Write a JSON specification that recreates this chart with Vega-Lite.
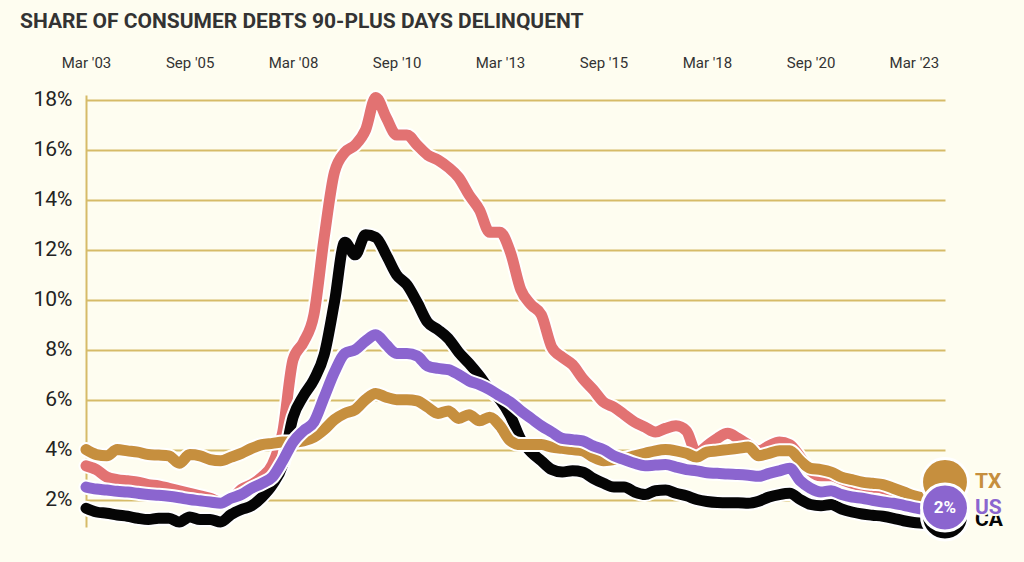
{
  "$schema": "https://vega.github.io/schema/vega-lite/v6.json",
  "width": 859,
  "height": 432,
  "autosize": {"type": "none"},
  "padding": {"left": 86, "top": 95, "right": 79, "bottom": 35},
  "background": "#FEFDF0",
  "title": {
    "text": "SHARE OF CONSUMER DEBTS 90-PLUS DAYS DELINQUENT",
    "anchor": "start",
    "frame": "group",
    "dx": -66,
    "offset": 23,
    "font": "Roboto",
    "fontSize": 21,
    "fontWeight": "bold",
    "color": "#333333"
  },
  "config": {"view": {"stroke": null}},
  "datasets": {
    "main": [
      {"d": "2003-03-01", "FL": 3.35, "TX": 4.0, "US": 2.5, "CA": 1.65},
      {"d": "2003-06-01", "FL": 3.2, "TX": 3.8, "US": 2.42, "CA": 1.5},
      {"d": "2003-09-01", "FL": 2.9, "TX": 3.75, "US": 2.38, "CA": 1.45},
      {"d": "2003-12-01", "FL": 2.8, "TX": 4.0, "US": 2.33, "CA": 1.38},
      {"d": "2004-03-01", "FL": 2.75, "TX": 3.95, "US": 2.3, "CA": 1.33},
      {"d": "2004-06-01", "FL": 2.7, "TX": 3.9, "US": 2.25, "CA": 1.25},
      {"d": "2004-09-01", "FL": 2.6, "TX": 3.8, "US": 2.2, "CA": 1.2},
      {"d": "2004-12-01", "FL": 2.55, "TX": 3.78, "US": 2.17, "CA": 1.25},
      {"d": "2005-03-01", "FL": 2.45, "TX": 3.75, "US": 2.13, "CA": 1.25},
      {"d": "2005-06-01", "FL": 2.35, "TX": 3.45, "US": 2.07, "CA": 1.1},
      {"d": "2005-09-01", "FL": 2.25, "TX": 3.8, "US": 2.0, "CA": 1.3},
      {"d": "2005-12-01", "FL": 2.15, "TX": 3.75, "US": 1.95, "CA": 1.2},
      {"d": "2006-03-01", "FL": 2.05, "TX": 3.6, "US": 1.9, "CA": 1.2},
      {"d": "2006-06-01", "FL": 1.9, "TX": 3.55, "US": 1.85, "CA": 1.1},
      {"d": "2006-09-01", "FL": 2.0, "TX": 3.7, "US": 2.05, "CA": 1.4},
      {"d": "2006-12-01", "FL": 2.4, "TX": 3.85, "US": 2.2, "CA": 1.6},
      {"d": "2007-03-01", "FL": 2.6, "TX": 4.05, "US": 2.45, "CA": 1.75},
      {"d": "2007-06-01", "FL": 2.9, "TX": 4.2, "US": 2.65, "CA": 2.1},
      {"d": "2007-09-01", "FL": 3.4, "TX": 4.25, "US": 2.9, "CA": 2.6},
      {"d": "2007-12-01", "FL": 4.7, "TX": 4.3, "US": 3.55, "CA": 3.4},
      {"d": "2008-03-01", "FL": 7.6, "TX": 4.3, "US": 4.3, "CA": 5.3},
      {"d": "2008-06-01", "FL": 8.3, "TX": 4.35, "US": 4.75, "CA": 6.15},
      {"d": "2008-09-01", "FL": 9.4, "TX": 4.5, "US": 5.1, "CA": 6.8},
      {"d": "2008-12-01", "FL": 12.5, "TX": 4.8, "US": 6.1, "CA": 7.8},
      {"d": "2009-03-01", "FL": 15.1, "TX": 5.2, "US": 7.1, "CA": 9.9},
      {"d": "2009-06-01", "FL": 15.9, "TX": 5.45, "US": 7.85, "CA": 12.3},
      {"d": "2009-09-01", "FL": 16.2, "TX": 5.6, "US": 8.0, "CA": 11.8},
      {"d": "2009-12-01", "FL": 16.8, "TX": 6.0, "US": 8.35, "CA": 12.6},
      {"d": "2010-03-01", "FL": 18.1, "TX": 6.25, "US": 8.6, "CA": 12.5},
      {"d": "2010-06-01", "FL": 17.3, "TX": 6.1, "US": 8.2, "CA": 11.8},
      {"d": "2010-09-01", "FL": 16.6, "TX": 6.0, "US": 7.85, "CA": 11.0},
      {"d": "2010-12-01", "FL": 16.6, "TX": 6.0, "US": 7.85, "CA": 10.6},
      {"d": "2011-03-01", "FL": 16.2, "TX": 5.95, "US": 7.75, "CA": 9.9},
      {"d": "2011-06-01", "FL": 15.8, "TX": 5.7, "US": 7.35, "CA": 9.1},
      {"d": "2011-09-01", "FL": 15.6, "TX": 5.45, "US": 7.25, "CA": 8.8},
      {"d": "2011-12-01", "FL": 15.3, "TX": 5.55, "US": 7.2, "CA": 8.45},
      {"d": "2012-03-01", "FL": 14.9, "TX": 5.25, "US": 7.0, "CA": 7.9},
      {"d": "2012-06-01", "FL": 14.2, "TX": 5.4, "US": 6.75, "CA": 7.45},
      {"d": "2012-09-01", "FL": 13.6, "TX": 5.15, "US": 6.6, "CA": 6.95},
      {"d": "2012-12-01", "FL": 12.7, "TX": 5.3, "US": 6.4, "CA": 6.4},
      {"d": "2013-03-01", "FL": 12.7, "TX": 4.95, "US": 6.15, "CA": 6.0},
      {"d": "2013-06-01", "FL": 11.9, "TX": 4.35, "US": 5.9, "CA": 5.35},
      {"d": "2013-09-01", "FL": 10.4, "TX": 4.2, "US": 5.55, "CA": 4.4},
      {"d": "2013-12-01", "FL": 9.8, "TX": 4.2, "US": 5.25, "CA": 3.9},
      {"d": "2014-03-01", "FL": 9.4, "TX": 4.2, "US": 4.95, "CA": 3.55},
      {"d": "2014-06-01", "FL": 8.1, "TX": 4.1, "US": 4.7, "CA": 3.2},
      {"d": "2014-09-01", "FL": 7.7, "TX": 4.05, "US": 4.45, "CA": 3.1},
      {"d": "2014-12-01", "FL": 7.4, "TX": 4.0, "US": 4.4, "CA": 3.15},
      {"d": "2015-03-01", "FL": 6.85, "TX": 3.95, "US": 4.35, "CA": 3.1},
      {"d": "2015-06-01", "FL": 6.4, "TX": 3.7, "US": 4.15, "CA": 2.85},
      {"d": "2015-09-01", "FL": 5.9, "TX": 3.55, "US": 4.0, "CA": 2.65},
      {"d": "2015-12-01", "FL": 5.7, "TX": 3.6, "US": 3.75, "CA": 2.5},
      {"d": "2016-03-01", "FL": 5.4, "TX": 3.65, "US": 3.6, "CA": 2.5},
      {"d": "2016-06-01", "FL": 5.1, "TX": 3.75, "US": 3.45, "CA": 2.3},
      {"d": "2016-09-01", "FL": 4.9, "TX": 3.85, "US": 3.35, "CA": 2.2},
      {"d": "2016-12-01", "FL": 4.7, "TX": 3.95, "US": 3.38, "CA": 2.35},
      {"d": "2017-03-01", "FL": 4.85, "TX": 4.0, "US": 3.4, "CA": 2.38},
      {"d": "2017-06-01", "FL": 4.95, "TX": 3.95, "US": 3.3, "CA": 2.25},
      {"d": "2017-09-01", "FL": 4.75, "TX": 3.85, "US": 3.2, "CA": 2.15},
      {"d": "2017-12-01", "FL": 3.85, "TX": 3.7, "US": 3.15, "CA": 2.0},
      {"d": "2018-03-01", "FL": 4.15, "TX": 3.9, "US": 3.07, "CA": 1.92},
      {"d": "2018-06-01", "FL": 4.45, "TX": 3.95, "US": 3.05, "CA": 1.88},
      {"d": "2018-09-01", "FL": 4.65, "TX": 4.0, "US": 3.02, "CA": 1.87},
      {"d": "2018-12-01", "FL": 4.45, "TX": 4.05, "US": 3.0, "CA": 1.87},
      {"d": "2019-03-01", "FL": 4.2, "TX": 4.1, "US": 2.97, "CA": 1.85},
      {"d": "2019-06-01", "FL": 3.95, "TX": 3.75, "US": 2.93, "CA": 1.93},
      {"d": "2019-09-01", "FL": 4.15, "TX": 3.85, "US": 3.05, "CA": 2.1},
      {"d": "2019-12-01", "FL": 4.3, "TX": 3.95, "US": 3.15, "CA": 2.2},
      {"d": "2020-03-01", "FL": 4.2, "TX": 3.95, "US": 3.25, "CA": 2.25},
      {"d": "2020-06-01", "FL": 3.7, "TX": 3.55, "US": 2.75, "CA": 2.0},
      {"d": "2020-09-01", "FL": 3.15, "TX": 3.25, "US": 2.45, "CA": 1.8},
      {"d": "2020-12-01", "FL": 2.95, "TX": 3.2, "US": 2.3, "CA": 1.75},
      {"d": "2021-03-01", "FL": 2.95, "TX": 3.1, "US": 2.35, "CA": 1.8},
      {"d": "2021-06-01", "FL": 2.8, "TX": 2.9, "US": 2.2, "CA": 1.62},
      {"d": "2021-09-01", "FL": 2.65, "TX": 2.8, "US": 2.1, "CA": 1.5},
      {"d": "2021-12-01", "FL": 2.55, "TX": 2.7, "US": 2.05, "CA": 1.42},
      {"d": "2022-03-01", "FL": 2.5, "TX": 2.65, "US": 1.97, "CA": 1.37},
      {"d": "2022-06-01", "FL": 2.45, "TX": 2.6, "US": 1.9, "CA": 1.33},
      {"d": "2022-09-01", "FL": 2.3, "TX": 2.45, "US": 1.85, "CA": 1.25},
      {"d": "2022-12-01", "FL": 2.15, "TX": 2.3, "US": 1.77, "CA": 1.15},
      {"d": "2023-03-01", "FL": 2.0, "TX": 2.15, "US": 1.68, "CA": 1.08},
      {"d": "2023-06-01", "FL": 1.9, "TX": 2.05, "US": 1.6, "CA": 1.05},
      {"d": "2023-09-01", "FL": 1.85, "TX": 2.0, "US": 1.58, "CA": 1.0},
      {"d": "2023-12-01", "FL": 1.85, "TX": 2.0, "US": 1.6, "CA": 1.0}
    ],
    "ends": [
      {"s": "CA", "d": "2023-12-01", "pos": 1.32, "badge": ""},
      {"s": "TX", "d": "2023-12-01", "pos": 2.7, "badge": ""},
      {"s": "US", "d": "2023-12-01", "pos": 1.68, "badge": "2%"}
    ]
  },
  "encoding": {
    "x": {
      "field": "d",
      "type": "temporal",
      "scale": {"domain": [{"year": 2003, "month": 3, "date": 1}, {"year": 2023, "month": 12, "date": 1}]},
      "axis": {
        "orient": "top",
        "title": null,
        "values": [
          {"year": 2003, "month": 3, "date": 1},
          {"year": 2005, "month": 9, "date": 1},
          {"year": 2008, "month": 3, "date": 1},
          {"year": 2010, "month": 9, "date": 1},
          {"year": 2013, "month": 3, "date": 1},
          {"year": 2015, "month": 9, "date": 1},
          {"year": 2018, "month": 3, "date": 1},
          {"year": 2020, "month": 9, "date": 1},
          {"year": 2023, "month": 3, "date": 1}
        ],
        "format": "%b '%y",
        "labelFont": "Roboto",
        "labelFontSize": 15,
        "labelColor": "#333333",
        "ticks": false,
        "tickSize": 0,
        "domain": false,
        "grid": false,
        "labelPadding": 25,
        "labelFlush": false,
        "labelOverlap": false
      }
    },
    "y": {
      "type": "quantitative",
      "scale": {"domain": [0.9, 18.2], "nice": false, "zero": false},
      "axis": {
        "title": null,
        "values": [2, 4, 6, 8, 10, 12, 14, 16, 18],
        "labelExpr": "datum.value + '%'",
        "labelFont": "Roboto",
        "labelFontSize": 21,
        "labelColor": "#222222",
        "ticks": false,
        "tickSize": 0,
        "labelPadding": 14,
        "domain": true,
        "domainColor": "#D6BB68",
        "domainWidth": 2,
        "grid": true,
        "gridColor": "#D6BB68",
        "gridWidth": 2
      }
    }
  },
  "layer": [
    {
      "data": {"name": "main"},
      "transform": [{"fold": ["FL", "TX", "US", "CA"], "as": ["s", "v"]}],
      "encoding": {"y": {"field": "v", "type": "quantitative"}},
      "layer": [
        {"transform": [{"filter": "datum.s === 'FL'"}], "mark": {"type": "line", "color": "#FFFFFF", "strokeWidth": 15, "interpolate": "monotone", "strokeCap": "round", "strokeJoin": "round"}, "encoding": {}},
        {"transform": [{"filter": "datum.s === 'FL'"}], "mark": {"type": "line", "color": "#E27272", "strokeWidth": 11, "interpolate": "monotone", "strokeCap": "round", "strokeJoin": "round"}, "encoding": {}},
        {"transform": [{"filter": "datum.s === 'CA'"}], "mark": {"type": "line", "color": "#FFFFFF", "strokeWidth": 15, "interpolate": "monotone", "strokeCap": "round", "strokeJoin": "round"}, "encoding": {}},
        {"transform": [{"filter": "datum.s === 'CA'"}], "mark": {"type": "line", "color": "#050505", "strokeWidth": 11, "interpolate": "monotone", "strokeCap": "round", "strokeJoin": "round"}, "encoding": {}},
        {"transform": [{"filter": "datum.s === 'TX'"}], "mark": {"type": "line", "color": "#FFFFFF", "strokeWidth": 15, "interpolate": "monotone", "strokeCap": "round", "strokeJoin": "round"}, "encoding": {}},
        {"transform": [{"filter": "datum.s === 'TX'"}], "mark": {"type": "line", "color": "#C68F3E", "strokeWidth": 11, "interpolate": "monotone", "strokeCap": "round", "strokeJoin": "round"}, "encoding": {}},
        {"transform": [{"filter": "datum.s === 'US'"}], "mark": {"type": "line", "color": "#FFFFFF", "strokeWidth": 15, "interpolate": "monotone", "strokeCap": "round", "strokeJoin": "round"}, "encoding": {}},
        {"transform": [{"filter": "datum.s === 'US'"}], "mark": {"type": "line", "color": "#8B65CF", "strokeWidth": 11, "interpolate": "monotone", "strokeCap": "round", "strokeJoin": "round"}, "encoding": {}}
      ]
    },
    {
      "data": {"name": "ends"},
      "encoding": {"y": {"field": "pos", "type": "quantitative"}},
      "layer": [
        {
          "mark": {"type": "point", "shape": "circle", "filled": true, "stroke": "#FFFFFF", "strokeWidth": 3, "opacity": 1},
          "encoding": {
            "size": {"value": 2200},
            "color": {"field": "s", "type": "nominal", "scale": {"domain": ["FL", "TX", "US", "CA"], "range": ["#E27272", "#C68F3E", "#8B65CF", "#050505"]}, "legend": null}
          }
        },
        {
          "mark": {"type": "text", "color": "#FFFFFF", "font": "Roboto", "fontWeight": "bold", "fontSize": 17, "align": "center", "baseline": "middle"},
          "encoding": {"text": {"field": "badge"}}
        },
        {
          "transform": [{"filter": "datum.s === 'CA'"}],
          "mark": {"type": "text", "font": "Roboto", "fontWeight": "bold", "fontSize": 21, "align": "left", "baseline": "middle", "dx": 30, "dy": 3, "color": "#050505"},
          "encoding": {"text": {"field": "s"}}
        },
        {
          "transform": [{"filter": "datum.s !== 'CA'"}],
          "mark": {"type": "text", "font": "Roboto", "fontWeight": "bold", "fontSize": 21, "align": "left", "baseline": "middle", "dx": 30, "color": "#FEFDF0", "stroke": "#FEFDF0", "strokeWidth": 4},
          "encoding": {"text": {"field": "s"}}
        },
        {
          "transform": [{"filter": "datum.s !== 'CA'"}],
          "mark": {"type": "text", "font": "Roboto", "fontWeight": "bold", "fontSize": 21, "align": "left", "baseline": "middle", "dx": 30},
          "encoding": {
            "text": {"field": "s"},
            "color": {"field": "s", "type": "nominal", "scale": {"domain": ["FL", "TX", "US", "CA"], "range": ["#E27272", "#C68F3E", "#8B65CF", "#050505"]}, "legend": null}
          }
        }
      ]
    }
  ]
}
